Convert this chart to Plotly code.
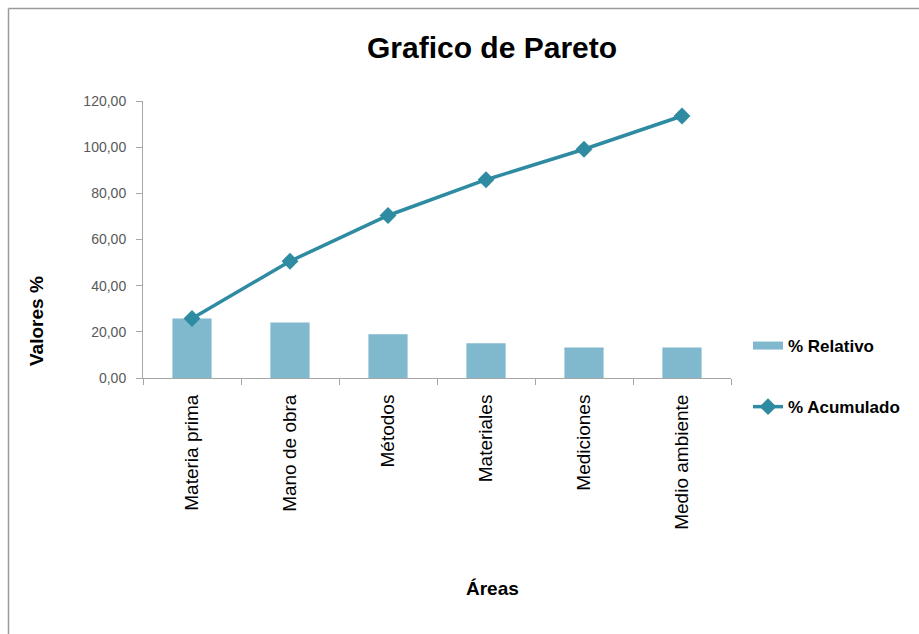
import plotly.graph_objects as go

# Categories and values of the Pareto analysis
areas = ["Materia prima", "Mano de obra", "Métodos", "Materiales", "Mediciones", "Medio ambiente"]
relativo = [25.8, 24.0, 19.0, 15.1, 13.2, 13.2]
acumulado = [25.8, 50.6, 70.4, 85.9, 99.1, 113.5]
y_ticks = [0, 20, 40, 60, 80, 100, 120]

W, H = 919, 634
L, R, T, B = 143, 188, 101, 256
pw, ph = W - L - R, H - T - B

BAR_COLOR = "#80B9CE"
LINE_COLOR = "#2E8BA2"
FONT = "Liberation Sans, Arial, sans-serif"

fig = go.Figure()
fig.add_trace(go.Bar(
    x=areas, y=relativo, name="% Relativo",
    marker=dict(color=BAR_COLOR, line=dict(width=0)),
    width=0.4, showlegend=False,
))
# legend entry for the bars drawn as a wide swatch
fig.add_trace(go.Scatter(
    x=[None], y=[None], name="% Relativo", mode="lines",
    line=dict(color=BAR_COLOR, width=8), legendgroup="a",
))
fig.add_trace(go.Scatter(
    x=areas, y=acumulado, name="% Acumulado", mode="lines+markers",
    line=dict(color=LINE_COLOR, width=3.5),
    marker=dict(symbol="diamond", size=13, color=LINE_COLOR),
    legendgroup="b",
))

def px_x(px):
    return (px - L) / pw

def px_y(py):
    return (H - B - py) / ph

fig.update_layout(
    width=W, height=H,
    margin=dict(l=L, r=R, t=T, b=B),
    paper_bgcolor="white", plot_bgcolor="white",
    separators=",.",
    font=dict(family=FONT, color="black"),
    showlegend=True,
    legend=dict(
        x=px_x(748), y=px_y(328), xanchor="left", yanchor="top",
        font=dict(size=17, family=FONT, color="black", weight="bold"),
        tracegroupgap=36, traceorder="grouped",
        bgcolor="rgba(0,0,0,0)",
    ),
    bargap=0.6,
    xaxis=dict(
        type="category",
        tickangle=-90,
        tickfont=dict(size=19, color="black"),
        showline=True, linecolor="#A6A6A6", linewidth=1,
        ticks="outside", tickson="boundaries", ticklen=6, tickcolor="#A6A6A6",
        ticklabelstandoff=8,
        showgrid=False, zeroline=False,
        range=[-0.5, 5.5],
    ),
    yaxis=dict(
        range=[0, 120],
        tickvals=y_ticks,
        tickformat=".2f",
        tickfont=dict(size=14, color="#595959"),
        showline=True, linecolor="#A6A6A6", linewidth=1,
        ticks="outside", ticklen=6, tickcolor="#A6A6A6",
        ticklabelstandoff=7,
        showgrid=False, zeroline=False,
    ),
    annotations=[
        dict(text="<b>Grafico de Pareto</b>", xref="paper", yref="paper",
             x=px_x(492), y=px_y(48), xanchor="center", yanchor="middle",
             showarrow=False, font=dict(size=30, family=FONT, color="black")),
        dict(text="<b>Valores %</b>", xref="paper", yref="paper",
             x=px_x(36), y=px_y(321), xanchor="center", yanchor="middle",
             textangle=-90, showarrow=False,
             font=dict(size=19, family=FONT, color="black")),
        dict(text="<b>Áreas</b>", xref="paper", yref="paper",
             x=px_x(492), y=px_y(588), xanchor="center", yanchor="middle",
             showarrow=False, font=dict(size=19, family=FONT, color="black")),
    ],
    shapes=[
        # chart-area frame (left and top edges; right/bottom run off the page)
        dict(type="line", xref="paper", yref="paper",
             x0=px_x(8.5), x1=px_x(8.5), y0=px_y(8.5), y1=px_y(700),
             line=dict(color="#9A9A9A", width=1.5)),
        dict(type="line", xref="paper", yref="paper",
             x0=px_x(8.5), x1=px_x(1000), y0=px_y(8.5), y1=px_y(8.5),
             line=dict(color="#9A9A9A", width=1.5)),
    ],
)

fig.write_html("out.html")
